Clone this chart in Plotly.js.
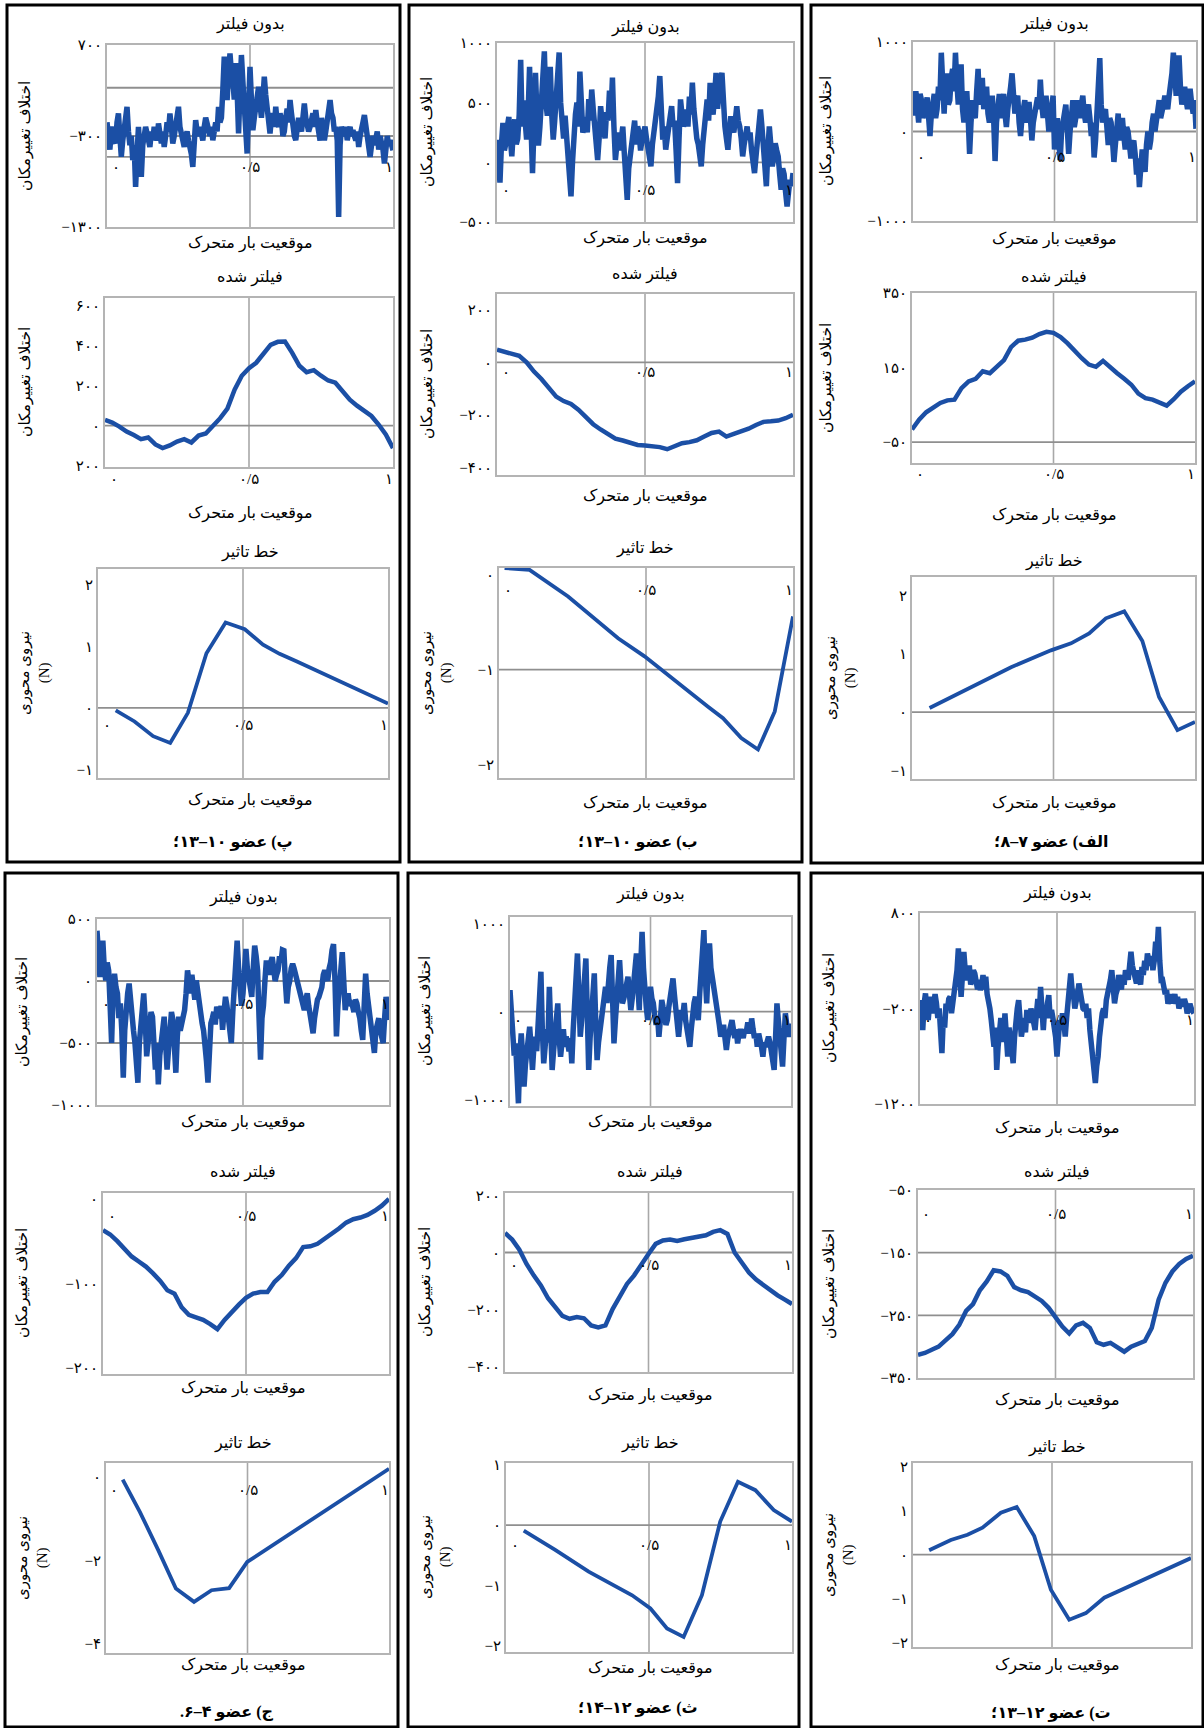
<!DOCTYPE html>
<html><head><meta charset="utf-8">
<script src="https://cdn.plot.ly/plotly-3.0.1.min.js"></script>
<style>html,body{margin:0;padding:0;background:#fff}</style>
</head><body><div id="chart" style="width:1204px;height:1728px"></div>
<script>
// ===== DATA =====
// الف) عضو ۷–۸
const u_A = [300,180,450,250,100,420,350,150,200,300,380,80,-50,200,300,420,150,250,500,350,
 880,400,200,550,650,300,350,600,700,450,880,550,300,600,750,250,100,300,450,150,
 -250,100,350,200,150,450,700,300,450,600,250,350,500,200,100,300,400,150,-330,100,
 300,420,150,300,420,200,50,250,350,500,650,300,200,350,400,100,-50,150,250,350,
 100,200,330,150,-100,100,200,350,380,250,580,300,150,300,400,200,0,150,250,400,
 -200,0,150,-100,-320,0,100,250,300,50,-250,0,200,350,50,150,350,200,150,300,
 400,200,100,250,300,150,-50,100,-290,-100,200,450,820,300,100,200,250,50,-150,150,
 100,-100,-340,-150,50,200,-100,50,150,-50,-200,50,0,-150,-300,-150,-100,-250,-480,-300,
 -620,-400,-200,-350,-450,-150,0,-200,-100,100,200,0,100,250,350,150,200,300,400,300,
 250,400,500,650,880,450,400,700,850,500,300,400,500,350,250,450,450,300,200,350,
 30];
const f_A = [-16,10,30,42,55,62,64,95,113,120,140,135,152,170,205,222,225,230,240,246,243,232,215,193,175,158,152,168,150,135,120,104,80,68,64,56,48,65,85,100,113];
const i_A_x = [0.062,0.197,0.35,0.491,0.562,0.626,0.685,0.75,0.814,0.873,0.938,1.0];
const i_A_y = [0.07,0.40,0.77,1.06,1.18,1.35,1.61,1.73,1.22,0.26,-0.31,-0.17];
// ب) عضو ۱۰–۱۳
const u_B = [190,0,-170,150,330,100,160,300,380,200,50,250,360,150,200,400,860,300,520,350,
 190,400,800,300,-90,300,750,400,140,300,550,700,930,500,390,600,800,400,190,350,
 600,750,920,500,300,200,390,250,100,-100,-285,0,250,400,500,300,760,450,250,300,
 380,250,530,350,610,450,300,150,20,200,470,350,300,200,420,350,600,400,710,300,
 20,150,250,100,190,300,80,-100,-314,-50,78,150,250,350,150,300,250,100,190,250,
 300,200,100,0,-34,150,250,300,400,550,723,400,190,300,106,200,300,400,470,300,
 350,100,-174,200,527,400,300,350,443,300,550,400,667,450,300,200,150,50,-34,150,
 300,400,527,350,667,500,400,550,750,450,600,700,750,450,300,200,106,250,387,300,
 250,350,470,350,300,200,50,150,250,300,190,250,100,0,-90,50,200,300,443,300,
 100,0,-200,100,300,150,-34,50,160,100,50,-100,-230,-50,-100,-250,-370,-250,-146,-200,
 -90];
const f_B = [48,40,36,25,0,-35,-63,-100,-130,-147,-158,-180,-207,-235,-255,-275,-290,-297,-305,-314,-316,-318,-322,-330,-318,-307,-303,-296,-282,-268,-263,-282,-272,-264,-252,-238,-226,-224,-221,-212,-199];
const i_B_x = [0.019,0.104,0.235,0.405,0.495,0.643,0.711,0.762,0.824,0.881,0.938,1.0];
const i_B_y = [0.07,0.05,-0.23,-0.67,-0.86,-1.23,-1.39,-1.51,-1.72,-1.84,-1.44,-0.44];
// پ) عضو ۱۰–۱۳
const u_C = [-150,-300,-450,-250,-200,-350,-380,-150,-52,-300,-529,-350,-250,-100,21,-250,-400,-300,-566,-400,
 -860,-500,-200,-450,-750,-400,-300,-200,-272,-350,-420,-250,-346,-200,-250,-350,-162,-300,-380,-250,
 -420,-300,-150,-250,-52,-200,-383,-300,-200,-100,21,-200,-300,-400,-420,-300,-250,-350,-400,-500,
 -640,-400,-126,-250,-300,-200,-272,-350,-200,-100,-162,-250,-300,-200,-346,-250,-150,-250,21,-150,
 -100,200,572,300,95,400,608,400,315,100,500,200,-272,200,590,300,95,-200,-492,0,
 461,100,-236,-100,50,150,241,50,-100,100,351,150,-50,-150,-272,-100,-50,-200,21,-150,
 -200,-50,-126,-300,-250,-100,0,-150,95,-50,-200,-300,-346,-200,-100,-200,-250,-100,58,-100,
 -150,-250,-199,-100,-50,-200,-15,-150,-250,-350,-100,-200,-346,-250,-150,-50,95,-50,-100,-250,
 -199,-350,-1190,-400,-199,-250,-300,-200,-346,-250,-200,-300,-236,-300,-350,-250,-420,-300,-250,-150,
 -70,-200,-350,-450,-529,-400,-300,-400,-346,-250,-450,-300,-380,-450,-603,-450,-300,-400,-346,-400,
 -456];
const f_C = [28,15,-5,-30,-48,-68,-60,-95,-113,-100,-80,-68,-85,-50,-40,-5,37,85,180,250,288,315,360,405,420,422,365,300,268,278,250,226,215,170,130,100,75,48,5,-45,-113];
const i_C_x = [0.061,0.126,0.19,0.249,0.31,0.374,0.44,0.506,0.569,0.626,0.684,1.0];
const i_C_y = [-0.04,-0.22,-0.46,-0.57,-0.08,0.89,1.39,1.28,1.03,0.88,0.76,0.07];
// ت) عضو ۱۲–۱۳
const u_D = [-112,-250,-425,-150,-42,-200,-320,-150,-77,-250,-150,-50,-146,-300,-200,-400,-668,-300,-400,-150,
 -216,-100,-77,-250,-150,0,62,200,428,100,-77,150,393,200,97,150,250,50,100,200,
 166,50,0,100,-8,50,150,0,132,-50,-100,-200,-320,-450,-600,-400,-842,-600,-494,-300,
 -400,-550,-251,-450,-703,-400,-550,-650,-772,-500,-300,-200,-112,-300,-494,-400,-300,-450,-216,-300,
 -350,-200,-300,-400,-425,-250,-100,-300,27,-200,-425,-200,-300,-150,-60,-300,-216,-300,-400,-500,
 -703,-450,-320,-400,-250,-350,-494,-300,-100,0,166,0,-50,-200,-146,-50,62,-50,-100,-200,
 -216,-150,-300,-200,-425,-550,-700,-850,-981,-800,-703,-500,-320,-250,-200,-300,-112,-50,0,100,
 201,0,-146,-50,0,150,97,0,150,50,201,100,100,250,393,250,200,100,62,200,
 150,50,236,150,300,200,375,300,250,350,201,300,500,400,654,300,97,100,0,-50,
 -8,-150,-100,-50,-146,-100,-50,-150,-77,-200,-150,-100,-181,-100,-150,-250,-216,-150,-200,-250,
 -251];
const f_D = [-313,-310,-305,-300,-290,-280,-265,-243,-232,-210,-196,-178,-180,-187,-205,-210,-213,-220,-227,-238,-252,-268,-279,-266,-262,-270,-293,-297,-294,-302,-308,-300,-295,-291,-270,-225,-198,-180,-168,-160,-155];
const i_D_x = [0.058,0.136,0.196,0.25,0.316,0.373,0.436,0.496,0.562,0.622,0.688,0.832,1.0];
const i_D_y = [0.10,0.33,0.45,0.61,0.95,1.08,0.42,-0.80,-1.48,-1.33,-0.98,-0.57,-0.08];
// ث) عضو ۱۲–۱۴
const u_E = [247,-100,-247,-500,-361,-700,-1044,-500,-247,-500,-854,-600,-400,-200,-171,-400,-664,-400,-285,-450,
 -100,200,456,-200,-588,-400,-200,-350,285,-200,-664,-450,-300,-100,95,-300,-513,-350,-200,-400,
 -285,-350,-450,-300,-588,-200,100,400,664,200,-285,-100,200,400,607,0,-664,-300,0,200,
 437,-100,-551,-350,-200,-50,95,200,285,100,400,500,645,200,-361,-100,200,400,588,300,
 95,150,250,350,399,200,19,150,300,450,664,300,19,500,911,500,200,50,-95,100,
 285,150,100,-50,-150,-50,-285,-100,133,50,0,-150,-95,50,200,300,380,200,0,-150,
 -285,-100,19,-50,100,-100,-200,-300,-399,-200,0,100,171,50,-95,200,400,700,930,400,
 95,500,778,500,399,250,150,50,19,-150,-285,-200,-150,-300,-437,-300,-200,-150,-95,-200,
 -300,-200,-361,-250,-200,-250,-300,-200,-247,-150,-150,-250,-76,-200,-300,-250,-399,-250,-300,-400,
 -513,-350,-400,-300,-285,-350,-450,-550,-664,-300,95,-100,-300,-450,-626,-300,-19,-150,-285,-200,
 -133];
const f_E = [68,45,10,-40,-80,-115,-160,-190,-222,-232,-226,-230,-255,-262,-255,-198,-150,-110,-80,-40,-5,30,42,45,40,46,50,55,60,72,78,65,0,-35,-70,-95,-115,-135,-150,-165,-180];
const i_E_x = [0.062,0.172,0.289,0.371,0.441,0.505,0.563,0.621,0.685,0.749,0.811,0.872,0.936,1.0];
const i_E_y = [-0.09,-0.41,-0.77,-0.99,-1.16,-1.38,-1.71,-1.85,-1.16,0.06,0.72,0.58,0.25,0.06];
// ج) عضو ۴–۶
const u_F = [405,200,32,250,325,100,5,150,85,-200,-500,-100,59,-50,-100,-300,-181,-400,-780,-400,
 -200,-100,-21,-200,-314,-400,-500,-650,-820,-500,-367,-200,-101,-300,-607,-500,-400,-250,-288,-450,
 -714,-500,-833,-600,-500,-350,-288,-500,-714,-550,-400,-250,-314,-500,-740,-450,-288,-400,-350,-300,
 -234,-100,85,0,-101,50,-50,-150,5,-100,-181,-250,-341,-400,-500,-650,-820,-500,-341,-300,
 -250,-350,-208,-250,-300,-200,-394,-250,-128,-200,-300,-400,-500,-250,-48,150,325,100,-48,-200,
 -100,100,258,100,0,-50,-128,100,285,200,85,-300,-634,-300,-200,0,165,100,50,150,
 192,100,0,50,85,200,150,250,245,0,-181,-50,0,100,138,100,50,0,-48,-100,
 -150,-200,-234,-150,-100,-200,-300,-350,-421,-300,-200,-150,-128,-100,-50,50,85,50,0,100,
 150,250,298,0,-447,-200,0,100,232,0,-234,-150,-100,-200,-181,-200,-250,-150,-181,-250,
 -300,-400,-474,-200,59,-100,-200,-250,-314,-450,-580,-400,-341,-300,-400,-450,-500,-300,-128,-200,
 -314];
const f_F = [-37,-42,-50,-60,-68,-74,-80,-88,-97,-108,-112,-128,-137,-140,-143,-148,-154,-143,-133,-125,-117,-112,-110,-110,-98,-90,-79,-70,-57,-56,-53,-47,-42,-35,-28,-24,-22,-19,-14,-8,0];
const i_F_x = [0.059,0.12,0.185,0.247,0.311,0.373,0.435,0.499,1.0];
const i_F_y = [-0.06,-0.84,-1.76,-2.68,-3.0,-2.72,-2.67,-2.04,0.2];

// tick labels
const xTickText = ['۰','۰/۵','۱'];
const xTickPos = [0.03,0.5,0.985];
const yt_AU=[1000,0,-1000], ytx_AU=['۱۰۰۰','۰','−۱۰۰۰'];
const yt_AF=[350,150,-50], ytx_AF=['۳۵۰','۱۵۰','−۵۰'];
const yt_AI=[2,1,0,-1], ytx_AI=['۲','۱','۰','−۱'];
const yt_BU=[1000,500,0,-500], ytx_BU=['۱۰۰۰','۵۰۰','۰','−۵۰۰'];
const yt_BF=[200,0,-200,-400], ytx_BF=['۲۰۰','۰','−۲۰۰','−۴۰۰'];
const yt_BI=[0,-1,-2], ytx_BI=['۰','−۱','−۲'];
const yt_CU=[700,-300,-1300], ytx_CU=['۷۰۰','−۳۰۰','−۱۳۰۰'];
const yt_CF=[600,400,200,0,-200], ytx_CF=['۶۰۰','۴۰۰','۲۰۰','۰','۲۰۰'];
const yt_CI=[2,1,0,-1], ytx_CI=['۲','۱','۰','−۱'];
const yt_DU=[800,-200,-1200], ytx_DU=['۸۰۰','−۲۰۰','−۱۲۰۰'];
const yt_DF=[-50,-150,-250,-350], ytx_DF=['−۵۰','−۱۵۰','−۲۵۰','−۳۵۰'];
const yt_DI=[2,1,0,-1,-2], ytx_DI=['۲','۱','۰','−۱','−۲'];
const yt_EU=[1000,0,-1000], ytx_EU=['۱۰۰۰','۰','−۱۰۰۰'];
const yt_EF=[200,0,-200,-400], ytx_EF=['۲۰۰','۰','−۲۰۰','−۴۰۰'];
const yt_EI=[1,0,-1,-2], ytx_EI=['۱','۰','−۱','−۲'];
const yt_FU=[500,0,-500,-1000], ytx_FU=['۵۰۰','۰','−۵۰۰','−۱۰۰۰'];
const yt_FF=[0,-100,-200], ytx_FF=['۰','−۱۰۰','−۲۰۰'];
const yt_FI=[0,-2,-4], ytx_FI=['۰','−۲','−۴'];

// texts
const T_U = 'بدون فیلتر', T_F = 'فیلتر شده', T_I = 'خط تاثیر';
const T_X = 'موقعیت بار متحرک', T_Y = 'اختلاف تغییرمکان', T_YI = 'نیروی محوری<br>(N)';
const headings = ['الف) عضو ۷–۸؛','ب) عضو ۱۰–۱۳؛','پ) عضو ۱۰–۱۳؛','ت) عضو ۱۲–۱۳؛','ث) عضو ۱۲–۱۴؛','ج) عضو ۴–۶.'];

// ===== LAYOUT / DRAWING =====
const W=1204, H=1728;
const px = x => x/W, py = y => 1 - y/H;
const BLUE = '#1b4fa5';
const FONT = 'Liberation Serif, DejaVu Sans, serif';
const pos = n => Array.from({length:n}, (_, i) => i/(n-1));

// xl: x-label height in data units (inside plot); xlp: x-label height in page pixels (below plot)
const specs = [
 {box:[913,1196,42,221], y:u_A, range:[-1000,1000], tv:yt_AU, tt:ytx_AU, grid:[0], xl:-280, w:5.5},
 {box:[912,1195,293,463], y:f_A, range:[-106,350], tv:yt_AF, tt:ytx_AF, grid:[-50], xlp:474, w:4.5},
 {box:[912,1195,577,779], x:i_A_x, y:i_A_y, range:[-1.15,2.32], tv:yt_AI, tt:ytx_AI, grid:[0], w:3.8},
 {box:[497,793,43,222], y:u_B, range:[-500,1000], tv:yt_BU, tt:ytx_BU, grid:[0], xl:-230, w:5.5},
 {box:[497,793,294,475], y:f_B, range:[-428,260], tv:yt_BF, tt:ytx_BF, grid:[0], xl:-38, w:4.5},
 {box:[499,793,568,778], x:i_B_x, y:i_B_y, range:[-2.14,0.07], tv:yt_BI, tt:ytx_BI, grid:[-1], xl:-0.16, w:3.8},
 {box:[107,393,45,227], y:u_C, range:[-1300,700], tv:yt_CU, tt:ytx_CU, grid:[230,-300,-530], xl:-640, w:5.5},
 {box:[105,393,298,467], y:f_C, range:[-208,640], tv:yt_CF, tt:ytx_CF, grid:[0], xlp:479, w:4.5},
 {box:[98,388,569,778], x:i_C_x, y:i_C_y, range:[-1.14,2.26], tv:yt_CI, tt:ytx_CI, grid:[0], xl:-0.27, w:3.8},
 {box:[920,1194,913,1104], y:u_D, range:[-1200,800], tv:yt_DU, tt:ytx_DU, grid:[0], xl:-320, w:5.5},
 {box:[918,1193,1190,1378], y:f_D, range:[-350,-50], tv:yt_DF, tt:ytx_DF, grid:[-150,-250], xl:-88, w:4.5},
 {box:[913,1191,1463,1647], x:i_D_x, y:i_D_y, range:[-2.1,2.08], tv:yt_DI, tt:ytx_DI, grid:[0], w:3.8},
 {box:[510,791,917,1106], y:u_E, range:[-1075,1080], tv:yt_EU, tt:ytx_EU, grid:[0], xl:-100, w:5.5},
 {box:[505,792,1193,1372], y:f_E, range:[-418,208], tv:yt_EF, tt:ytx_EF, grid:[0], xl:-45, w:4.5},
 {box:[506,792,1463,1652], x:i_E_x, y:i_E_y, range:[-2.1,1.03], tv:yt_EI, tt:ytx_EI, grid:[0], xl:-0.33, w:3.8},
 {box:[97,389,919,1105], y:u_F, range:[-1000,500], tv:yt_FU, tt:ytx_FU, grid:[0,-500], xl:-185, w:5.5},
 {box:[103,389,1193,1374], y:f_F, range:[-207,7], tv:yt_FF, tt:ytx_FF, grid:[], xl:-20, w:4.5},
 {box:[106,389,1463,1653], x:i_F_x, y:i_F_y, range:[-4.23,0.34], tv:yt_FI, tt:ytx_FI, grid:[], xl:-0.3, w:3.8}
];

const panels = [
 {cx:1054, hx:1051, t:[25,240,277,515,562,803,842], yx:826, ix:840, yc:[131,378,678]},
 {cx:645, hx:638, t:[27,238,275,497,548,803,842], yx:427, ix:436, yc:[132,384,673]},
 {cx:250, hx:233, t:[25,243,277,513,552,800,842], yx:25, ix:34, yc:[136,382,673]},
 {cx:1057, hx:1051, t:[893,1128,1172,1400,1447,1665,1713], yx:829, ix:838, yc:[1008,1284,1555]},
 {cx:650, hx:638, t:[895,1122,1172,1395,1443,1668,1708], yx:425, ix:435, yc:[1011,1282,1557]},
 {cx:243, hx:227, t:[897,1122,1172,1388,1443,1665,1712], yx:22, ix:32, yc:[1012,1283,1558]}
];
const borders = [[811,1203,5,863],[409,802,5,862],[7,400,5,862],[811,1203,873,1727],[408,799,873,1727],[5,398,873,1727]];

const traces = [], shapes = [], annotations = [];
const layout = {
  width:W, height:H, margin:{l:0,r:0,t:0,b:0}, showlegend:false,
  paper_bgcolor:'#fff', plot_bgcolor:'#fff',
  font:{family:FONT, color:'#000', size:14}
};

specs.forEach((s, k) => {
  const n = k + 1, sfx = n === 1 ? '' : String(n);
  const xr = 'x' + sfx, yr = 'y' + sfx;
  const [x0,x1,y0,y1] = s.box;
  layout['xaxis' + sfx] = {domain:[px(x0), px(x1)], range:[0,1], anchor:yr, showgrid:false, zeroline:false,
    showline:true, mirror:true, linecolor:'#b4b4b4', linewidth:2, showticklabels:false, ticks:'', fixedrange:true};
  layout['yaxis' + sfx] = {domain:[py(y1), py(y0)], range:s.range, anchor:xr, showgrid:false, zeroline:false,
    showline:true, mirror:true, linecolor:'#b4b4b4', linewidth:2, ticks:'', tickvals:s.tv, ticktext:s.tt,
    tickfont:{size:15, color:'#000'}, fixedrange:true};
  shapes.push({type:'line', xref:xr, yref:yr, x0:0.5, x1:0.5, y0:s.range[0], y1:s.range[1], layer:'below',
    line:{color:'#a8a8a8', width:1.6}});
  s.grid.forEach(g => shapes.push({type:'line', xref:xr, yref:yr, x0:0, x1:1, y0:g, y1:g, layer:'below',
    line:{color:'#8f8f8f', width:1.8}}));
  traces.push({type:'scatter', mode:'lines', x: s.x || pos(s.y.length), y:s.y, xaxis:xr, yaxis:yr,
    line:{color:BLUE, width:s.w}, hoverinfo:'skip'});
  if (s.xl !== undefined) {
    xTickText.forEach((t, j) => annotations.push({xref:xr, yref:yr, x:xTickPos[j], y:s.xl, text:t,
      showarrow:false, xanchor:'center', yanchor:'middle', font:{size:15, color:'#000'}}));
  } else if (s.xlp !== undefined) {
    xTickText.forEach((t, j) => annotations.push({xref:xr, yref:'paper', x:xTickPos[j], y:py(s.xlp), text:t,
      showarrow:false, xanchor:'center', yanchor:'middle', font:{size:15, color:'#000'}}));
  }
});

const txt = (x, y, text, opt) => annotations.push(Object.assign({xref:'paper', yref:'paper', x:px(x), y:py(y),
  text, showarrow:false, xanchor:'center', yanchor:'middle', font:{size:16, color:'#000'}}, opt || {}));

panels.forEach((p, k) => {
  txt(p.cx, p.t[0], T_U);
  txt(p.cx, p.t[1], T_X);
  txt(p.cx, p.t[2], T_F);
  txt(p.cx, p.t[3], T_X);
  txt(p.cx, p.t[4], T_I);
  txt(p.cx, p.t[5], T_X);
  txt(p.hx, p.t[6], '<b>' + headings[k] + '\u200F</b>', {font:{size:16, color:'#000'}});
  txt(p.yx, p.yc[0], T_Y, {textangle:-90, font:{size:15.5, color:'#000'}});
  txt(p.yx, p.yc[1], T_Y, {textangle:-90, font:{size:15.5, color:'#000'}});
  txt(p.ix, p.yc[2], T_YI, {textangle:-90, font:{size:15, color:'#000'}});
});

borders.forEach(b => shapes.push({type:'rect', xref:'paper', yref:'paper', x0:px(b[0]), x1:px(b[1]),
  y0:py(b[3]), y1:py(b[2]), line:{color:'#000', width:3}, fillcolor:'rgba(0,0,0,0)'}));

layout.shapes = shapes;
layout.annotations = annotations;
Plotly.newPlot('chart', traces, layout, {staticPlot:true, displayModeBar:false});
</script>
</body></html>
